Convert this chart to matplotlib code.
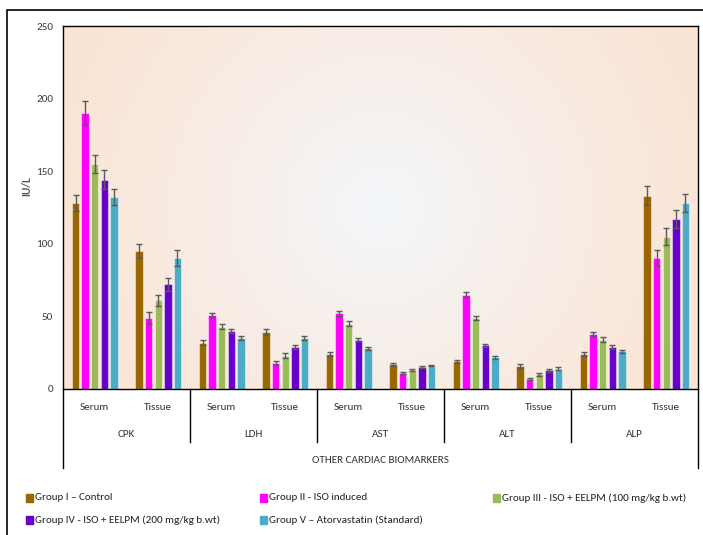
import numpy as np
import matplotlib
matplotlib.use('Agg')
import matplotlib.pyplot as plt
from matplotlib import font_manager
from matplotlib.patches import Rectangle

# pick a narrow sans face if one is around
installed = {f.name for f in font_manager.fontManager.ttflist}
narrow = next((n for n in ['Carlito', 'Liberation Sans Narrow'] if n in installed), 'DejaVu Sans')
plt.rcParams['font.family'] = [narrow, 'DejaVu Sans']
plt.rcParams['font.stretch'] = 'condensed'

markers = ['CPK', 'LDH', 'AST', 'ALT', 'ALP']
samples = ['Serum', 'Tissue']

groups = ['Group I \u2013 Control',
          'Group II - ISO induced',
          'Group III - ISO + EELPM (100 mg/kg b.wt)',
          'Group IV - ISO + EELPM (200 mg/kg b.wt)',
          'Group V \u2013 Atorvastatin (Standard)']
colors = ['#996600', '#FF00FF', '#9BBB59', '#6600CC', '#4BACC6']

# serum / tissue pairs for CPK, LDH, AST, ALT, ALP (IU/L)
control = [128, 95, 32, 39, 24, 17, 19, 16, 24, 133]
iso = [190, 49, 51, 18, 52, 11, 65, 7, 38, 90]
eelpm100 = [155, 61, 43, 23, 45, 13, 49, 10, 34, 105]
eelpm200 = [144, 72, 40, 29, 34, 15, 30, 13, 29, 117]
standard = [132, 90, 35, 35, 28, 16, 22, 14, 26, 128]

control_err = [5.5, 5, 2, 2, 1.5, 1, 1, 1.2, 1.5, 6.5]
iso_err = [8.5, 4, 1.5, 1.5, 1.5, 0.5, 1.5, 0.5, 1.5, 5.5]
eelpm100_err = [6, 4, 1.5, 1.5, 1.5, 0.5, 1.2, 1, 1.5, 6]
eelpm200_err = [6.5, 4.5, 1.2, 1.2, 1, 0.5, 1, 1, 1.5, 6]
standard_err = [5.5, 5.5, 1.5, 1.2, 1, 0.5, 1, 1, 1, 6.3]

series = [control, iso, eelpm100, eelpm200, standard]
errors = [control_err, iso_err, eelpm100_err, eelpm200_err, standard_err]

W, H = 703, 535
fig = plt.figure(figsize=(W / 100, H / 100), dpi=100)
left, right, top, bottom = 63, 698, 26, 389
ax = fig.add_axes([left / W, 1 - bottom / H, (right - left) / W, (bottom - top) / H])

# radial fill behind the bars: pale centre fading to peach
pw, ph = right - left, bottom - top
yy, xx = np.mgrid[0:ph, 0:pw]
r = np.hypot(xx - pw / 2, yy - ph / 2)
t = np.clip(r / 330, 0, 1) ** 0.9
c0 = np.array([243, 247, 251]) / 255
c1 = np.array([251, 229, 213]) / 255
bg = c0 + (c1 - c0) * t[..., None]
ax.imshow(bg, extent=[-0.5, 9.5, 0, 250], aspect='auto', zorder=0, interpolation='bilinear')

x = np.arange(10)
step, bw = 0.151, 0.118
for i, (vals, errs) in enumerate(zip(series, errors)):
    ax.bar(x + (i - 2) * step, vals, bw, color=colors[i], edgecolor=(1, 1, 1, 0.45),
           linewidth=0.8, zorder=2)
    ax.errorbar(x + (i - 2) * step, vals, yerr=errs, fmt='none', ecolor='#5a5a5a',
                elinewidth=1, capsize=2.2, capthick=1, zorder=3)

ax.set_xlim(-0.5, 9.5)
ax.set_ylim(0, 250)
ax.set_yticks(range(0, 251, 50))
ax.set_xticks([])
ax.tick_params(axis='y', length=0, pad=7, labelsize=8, labelcolor='#404040')
for s in ax.spines.values():
    s.set_color('black')
    s.set_linewidth(1)

# category table under the axis
tr = ax.get_xaxis_transform()
y_sub, y_grp, y_top, y_end = -0.0496, -0.124, -0.146, -0.218
for b in [1.5, 3.5, 5.5, 7.5]:
    ax.plot([b, b], [0, y_top], transform=tr, color='black', lw=1, clip_on=False)
for b in [-0.5, 9.5]:
    ax.plot([b, b], [0, y_end], transform=tr, color='black', lw=1, clip_on=False)
for k in range(10):
    ax.text(k, y_sub, samples[k % 2], transform=tr, ha='center', va='center',
            fontsize=8, color='#333333')
for j, m in enumerate(markers):
    ax.text(2 * j + 0.5, y_grp, m, transform=tr, ha='center', va='center',
            fontsize=8, color='#333333')
ax.text(4.5, y_end + 0.022, 'OTHER CARDIAC BIOMARKERS', transform=tr, ha='center',
        va='center', fontsize=8, color='#333333')

fig.text(27 / W, 1 - 186 / H, 'IU/L', rotation=90, ha='center', va='center',
         fontsize=8, fontweight='bold', color='#595959')

# legend laid out in two rows
legend_pos = [(26, 498), (260, 498), (493, 498), (26, 520), (260, 520)]
for (px, py), label, c in zip(legend_pos, groups, colors):
    fig.patches.append(Rectangle((px / W, 1 - (py + 4) / H), 7 / W, 8 / H,
                                 transform=fig.transFigure, color=c))
    fig.text((px + 9) / W, 1 - py / H, label, ha='left', va='center',
             fontsize=8, color='#222222')

# outer frame
fig.patches.append(Rectangle((7 / W, -0.05), 1.0, 1.05 - 10 / H, transform=fig.transFigure,
                             fill=False, edgecolor='black', lw=1.2))

fig.savefig('out.png', dpi=100)
